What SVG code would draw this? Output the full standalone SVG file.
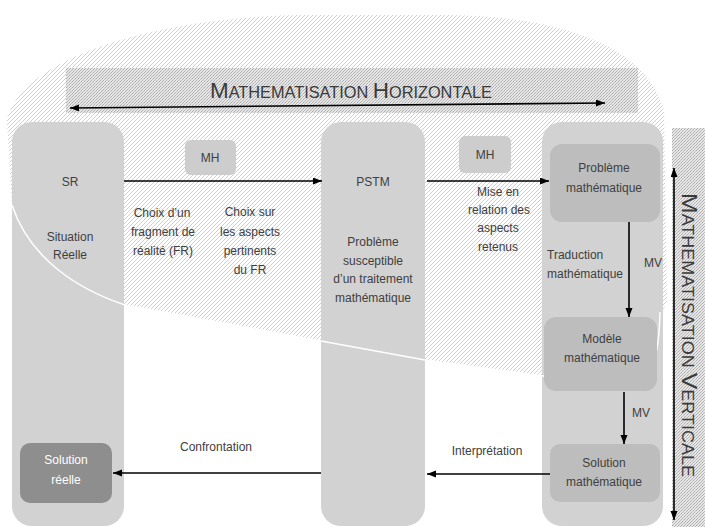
<svg xmlns="http://www.w3.org/2000/svg" width="705" height="527" viewBox="0 0 705 527">
<defs>
<pattern id="hatch" patternUnits="userSpaceOnUse" width="4" height="4">
<rect width="4" height="4" fill="#ffffff"/>
<path d="M0,4 L4,0 M-1,1 L1,-1 M3,5 L5,3" stroke="#cacaca" stroke-width="0.9"/>
</pattern>
<pattern id="stipple" patternUnits="userSpaceOnUse" width="3" height="3">
<rect width="3" height="3" fill="#e6e6e6"/>
<rect x="0" y="0" width="1" height="1" fill="#ababab"/>
<rect x="2" y="1" width="1" height="1" fill="#bdbdbd"/>
<rect x="1" y="2" width="1" height="1" fill="#b3b3b3"/>
</pattern>
<marker id="arr" markerUnits="userSpaceOnUse" markerWidth="10" markerHeight="8" refX="9" refY="3.5" orient="auto-start-reverse">
<path d="M0,0 L9,3.5 L0,7 z" fill="#000"/>
</marker>
</defs>
<style>
text{font-family:"Liberation Sans",Arial,sans-serif;font-size:12px;fill:#404040;text-anchor:middle}
.left{text-anchor:start}
.white{fill:#ffffff}
.title{font-size:16px;fill:#3a3a3a}
.big{font-size:22px}
.col{fill:#d2d2d2}
.inner{fill:#bdbdbd}
.mh{fill:#cdcdcd}
.conn{stroke:#000;stroke-width:1.6;fill:none}
</style>
<rect width="705" height="527" fill="#ffffff"/>
<g id="hatched-area">
<path d="M7,120 C20,60 150,18 300,15 L450,15 C560,17 645,45 664,110 L667,300 C666,308 662,311 660,312 C659,350 656,372 635,376 L543,376 L425,360 L321,341 L125,305 C80,290 30,260 12,205 Z" fill="url(#hatch)"/>
</g>
<g id="mh-band">
<rect x="66" y="68" width="572" height="45" fill="url(#stipple)"/>
<text class="title" x="351" y="98" textLength="282" lengthAdjust="spacingAndGlyphs"><tspan class="big">M</tspan>ATHEMATISATION <tspan class="big">H</tspan>ORIZONTALE</text>
<line class="conn" x1="70" y1="108" x2="605" y2="103" marker-start="url(#arr)" marker-end="url(#arr)"/>
</g>
<g id="mv-band">
<rect x="672" y="128" width="33" height="399" fill="url(#stipple)"/>
<text class="title" transform="translate(688,335) rotate(90)" x="0" y="6" textLength="284" lengthAdjust="spacingAndGlyphs"><tspan class="big">M</tspan>ATHEMATISATION <tspan class="big">V</tspan>ERTICALE</text>
<line class="conn" x1="674" y1="168" x2="674" y2="520" marker-start="url(#arr)" marker-end="url(#arr)"/>
</g>
<g id="col-sr"><rect class="col" x="12" y="122" width="112" height="404" rx="20"/></g>
<g id="col-pstm"><rect class="col" x="321" y="122" width="104" height="404" rx="20"/></g>
<g id="col-math"><rect class="col" x="542" y="122" width="121" height="404" rx="20" fill="#d4d4d4"/></g>
<g id="boundary"><path d="M660,312 C659,350 656,372 635,376 L543,376 L425,360 L321,341 L125,305 C80,290 30,260 12,205" fill="none" stroke="#ffffff" stroke-width="1.5"/></g>
<g id="mh1"><rect class="mh" x="185" y="140" width="51" height="35" rx="6"/><text x="210" y="162">MH</text></g>
<g id="mh2"><rect class="mh" x="459" y="136" width="52" height="37" rx="6"/><text x="485" y="159">MH</text></g>
<g id="probleme-math"><rect class="inner" x="550" y="144" width="110" height="78" rx="12"/><text x="604" y="172">Problème</text><text x="604" y="192">mathématique</text></g>
<g id="modele-math"><rect class="inner" x="544" y="317" width="113" height="74" rx="12" fill="#b6b6b6"/><text x="602" y="343">Modèle</text><text x="602" y="362">mathématique</text></g>
<g id="solution-math"><rect class="inner" x="550" y="444" width="110" height="58" rx="10"/><text x="604" y="467">Solution</text><text x="604" y="486">mathématique</text></g>
<g id="solution-reelle"><rect x="20" y="443" width="92" height="60" rx="10" fill="#8e8e8e"/><text class="white" x="66" y="464">Solution</text><text class="white" x="66" y="484">réelle</text></g>
<g id="sr-labels"><text x="70" y="186">SR</text><text x="70" y="241">Situation</text><text x="70" y="259">Réelle</text></g>
<g id="pstm-labels"><text x="373" y="186">PSTM</text><text x="373" y="246">Problème</text><text x="373" y="265">susceptible</text><text x="373" y="283">d’un traitement</text><text x="373" y="302">mathématique</text></g>
<g id="connectors">
<line class="conn" x1="124" y1="181" x2="322" y2="181" marker-end="url(#arr)"/>
<line class="conn" x1="427" y1="181" x2="549" y2="181" marker-end="url(#arr)"/>
<line class="conn" x1="629" y1="222" x2="629" y2="317" marker-end="url(#arr)"/>
<line class="conn" x1="624" y1="392" x2="624" y2="444" marker-end="url(#arr)"/>
<line class="conn" x1="550" y1="474" x2="427" y2="474" marker-end="url(#arr)"/>
<line class="conn" x1="321" y1="473" x2="113" y2="473" marker-end="url(#arr)"/>
</g>
<g id="connector-labels">
<text x="162" y="217">Choix d’un</text><text x="163" y="236">fragment de</text><text x="163" y="255">réalité (FR)</text>
<text x="250" y="216">Choix sur</text><text x="250" y="236">les aspects</text><text x="250" y="255">pertinents</text><text x="250" y="274">du FR</text>
<text x="498" y="196">Mise en</text><text x="499" y="214">relation des</text><text x="498" y="232">aspects</text><text x="498" y="251">retenus</text>
<text class="left" x="547" y="259">Traduction</text><text class="left" x="547" y="278">mathématique</text>
<text x="653" y="267">MV</text>
<text x="641" y="417">MV</text>
<text x="487" y="455">Interprétation</text>
<text x="216" y="451">Confrontation</text>
</g>
</svg>
